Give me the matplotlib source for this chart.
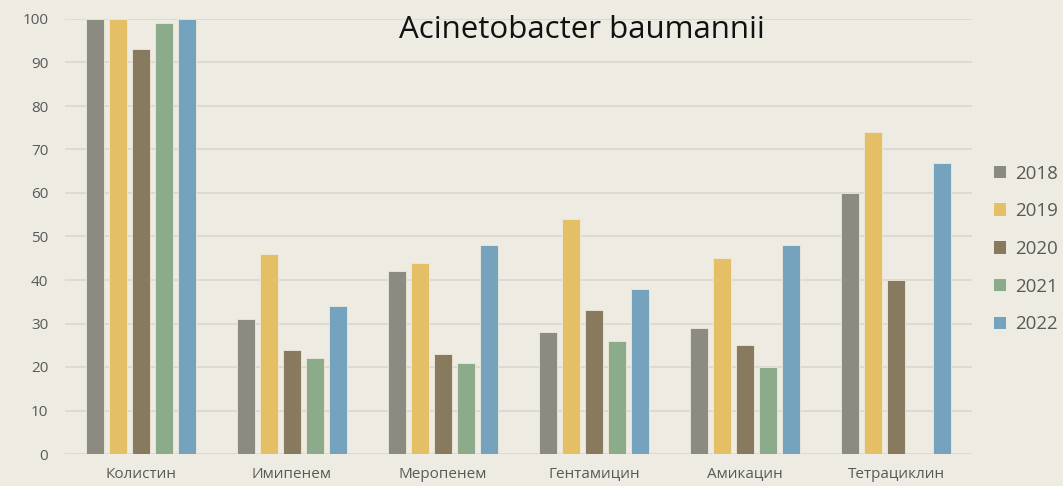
import numpy as np
import matplotlib.pyplot as plt

# data
drugs = ['Колистин', 'Имипенем', 'Меропенем', 'Гентамицин', 'Амикацин', 'Тетрациклин']
years = ['2018', '2019', '2020', '2021', '2022']
v2018 = [100, 31, 42, 28, 29, 60]
v2019 = [100, 46, 44, 54, 45, 74]
v2020 = [93, 24, 23, 33, 25, 40]
v2021 = [99, 22, 21, 26, 20, 0]
v2022 = [100, 34, 48, 38, 48, 67]
series = [v2018, v2019, v2020, v2021, v2022]
colors = ['#8b8b82', '#e5bf66', '#887a5e', '#8cab8b', '#75a3bd']

bg = '#eeebe3'
txt = '#595959'

fig = plt.figure(figsize=(10.63, 4.86), dpi=100, facecolor=bg)
ax = fig.add_axes([65/1063, 32/486, 907/1063, 435/486], facecolor=bg)

x = np.arange(len(drugs))
step = 0.152
width = 0.119
for i, (vals, c, yr) in enumerate(zip(series, colors, years)):
    ax.bar(x + (i - 2) * step, vals, width, color=c, label=yr,
           edgecolor='#efe9da', linewidth=0.6, zorder=3)

ax.set_xlim(-0.5, len(drugs) - 0.5)
ax.set_ylim(0, 100)
ax.set_yticks(range(0, 101, 10))
ax.yaxis.grid(True, color='#d9d7d0', linewidth=1.2, zorder=0)
ax.set_axisbelow(True)
for s in ax.spines.values():
    s.set_visible(False)
ax.tick_params(axis='both', length=0, colors=txt, labelsize=11)
ax.tick_params(axis='y', pad=12)
ax.tick_params(axis='x', pad=9)
ax.set_xticks(x)
ax.set_xticklabels(drugs, family='Open Sans')
for lab in ax.get_yticklabels():
    lab.set_family('Open Sans')

fig.text(582/1063, 1 - 30/486, 'Acinetobacter baumannii', ha='center', va='center',
         fontsize=22.5, family='Open Sans', color='#111111')

lg = fig.legend(loc='center left', bbox_to_anchor=(994/1063, 1 - 249/486),
                frameon=False, borderpad=0, borderaxespad=0,
                handlelength=0.65, handleheight=0.65,
                handletextpad=0.45, labelspacing=1.05, labelcolor=txt,
                prop={'family': 'Open Sans', 'size': 13.5})
for h in lg.legend_handles:
    h.set_edgecolor('none')

plt.savefig('out.png', dpi=100, facecolor=bg)
